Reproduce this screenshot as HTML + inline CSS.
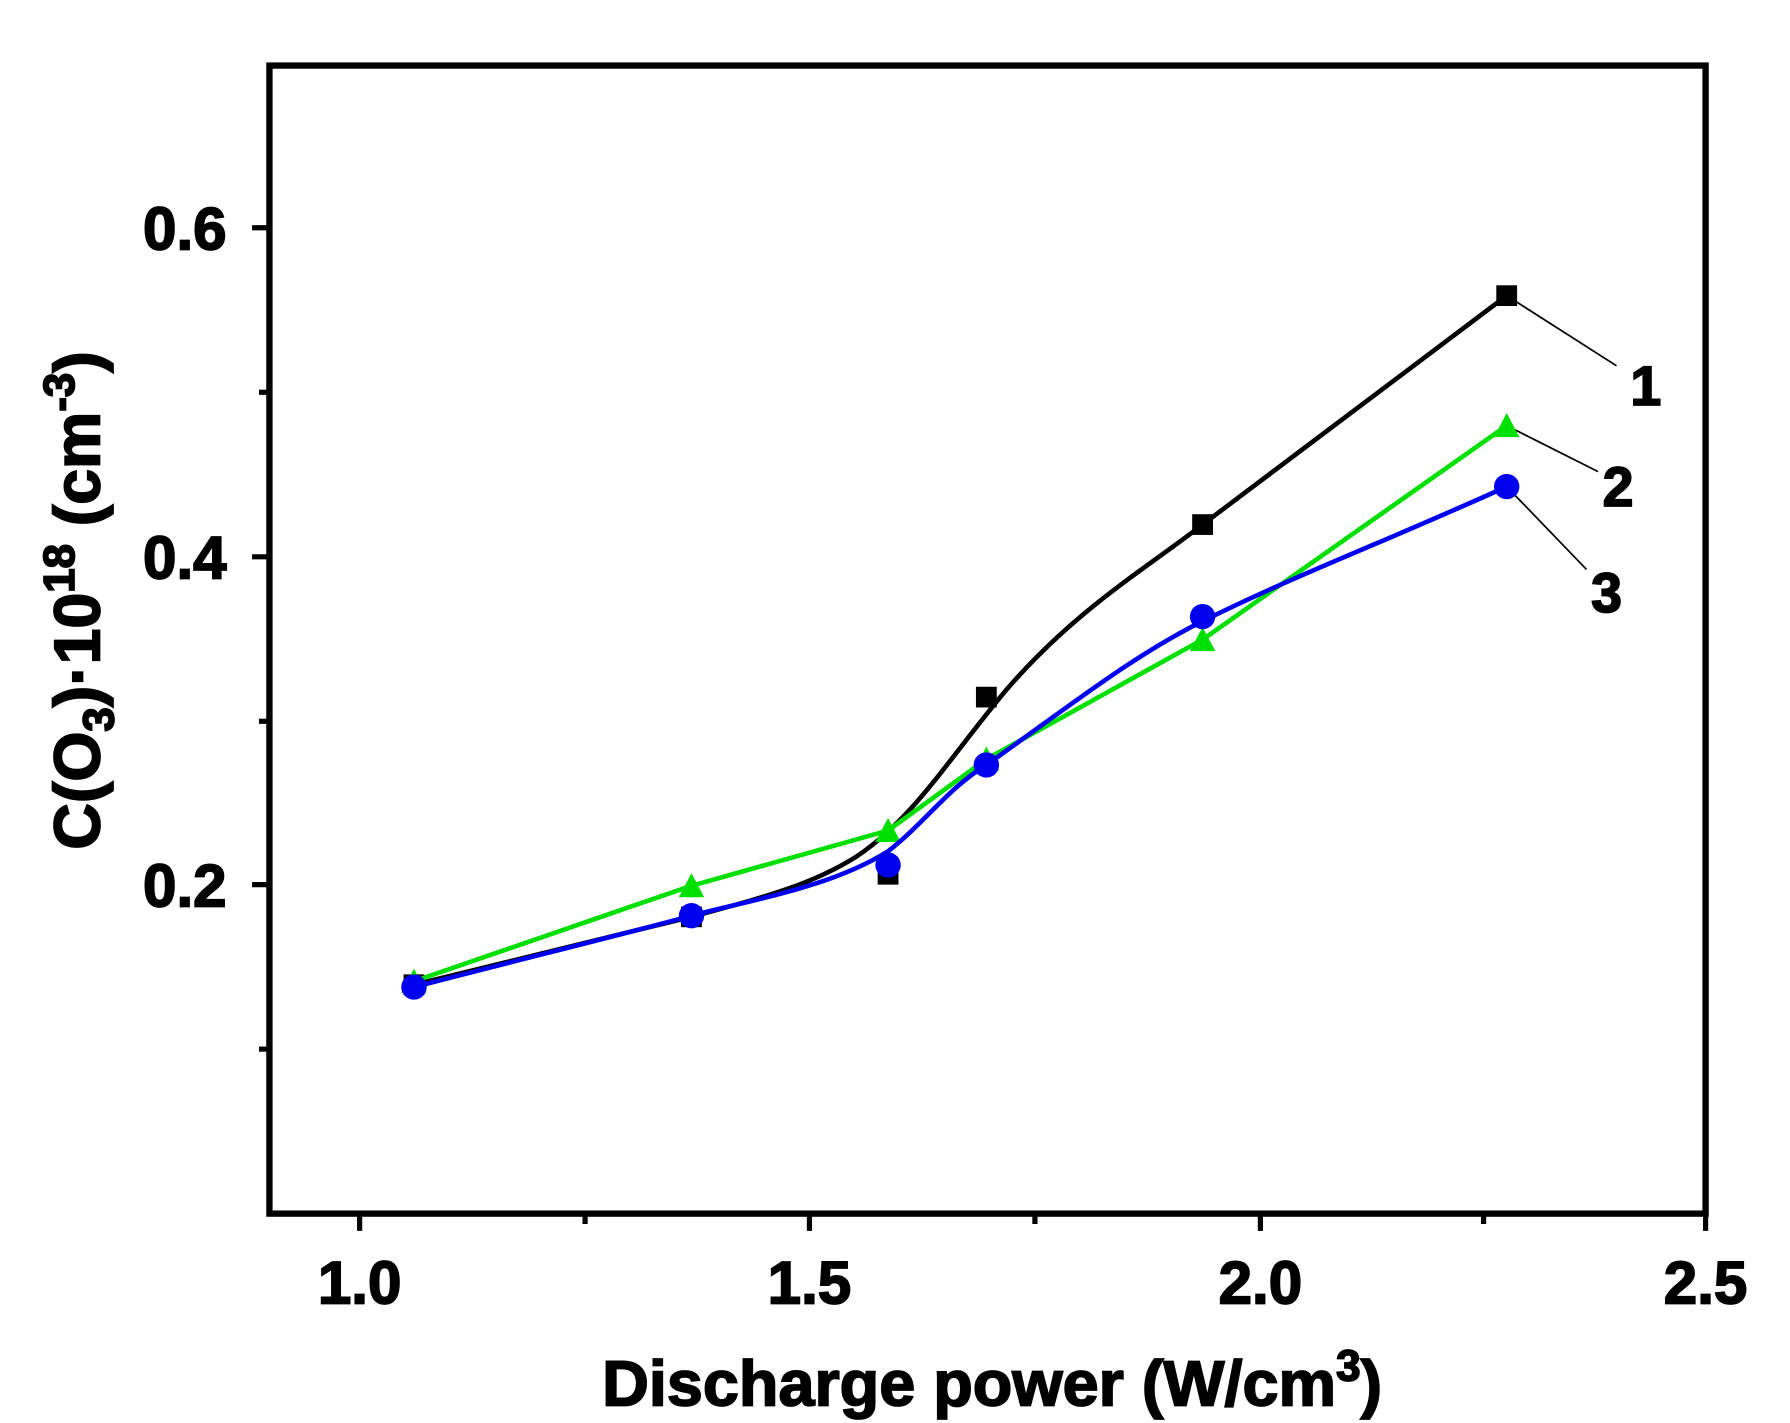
<!DOCTYPE html>
<html><head><meta charset="utf-8"><style>
html,body{margin:0;padding:0;background:#fff;}
svg{display:block;}
text{font-family:"Liberation Sans",Arial,sans-serif;font-weight:bold;fill:#000;stroke:#000;stroke-width:1.5;}
</style></head><body>
<svg width="1790" height="1423" viewBox="0 0 1548 1237" preserveAspectRatio="none" xmlns="http://www.w3.org/2000/svg">
<rect x="0" y="0" width="1548" height="1237" fill="#fff"/>
<g stroke="#000" stroke-width="4.5">
<line x1="218" y1="198" x2="233" y2="198"/>
<line x1="224" y1="341" x2="233" y2="341"/>
<line x1="218" y1="484" x2="233" y2="484"/>
<line x1="224" y1="627" x2="233" y2="627"/>
<line x1="218" y1="769" x2="233" y2="769"/>
<line x1="224" y1="912" x2="233" y2="912"/>
<line x1="311" y1="1055" x2="311" y2="1070"/>
<line x1="506" y1="1055" x2="506" y2="1064"/>
<line x1="700" y1="1055" x2="700" y2="1070"/>
<line x1="895" y1="1055" x2="895" y2="1064"/>
<line x1="1090" y1="1055" x2="1090" y2="1070"/>
<line x1="1283" y1="1055" x2="1283" y2="1064"/>
<line x1="1475" y1="1055" x2="1475" y2="1070"/>
</g>
<rect x="233" y="57" width="1242" height="998" fill="none" stroke="#000" stroke-width="5.5"/>
<g font-size="52" text-anchor="end">
<text x="196" y="217">0.6</text>
<text x="196" y="503">0.4</text>
<text x="196" y="788">0.2</text>
</g>
<g font-size="52" text-anchor="middle">
<text x="311" y="1133">1.0</text>
<text x="700" y="1133">1.5</text>
<text x="1090" y="1133">2.0</text>
<text x="1475" y="1133">2.5</text>
<text x="858" y="1222" font-size="56">Discharge power (W/cm<tspan font-size="38" dy="-22">3</tspan><tspan dy="22">)</tspan></text>
</g>
<text font-size="56" text-anchor="middle" transform="translate(86,522) rotate(-90)">C(O<tspan font-size="38" dy="12">3</tspan><tspan dy="-12">)·10</tspan><tspan font-size="38" dy="-22">18</tspan><tspan dy="22"> (cm</tspan><tspan font-size="38" dy="-22">-3</tspan><tspan dy="22">)</tspan></text>
<g stroke="#000" stroke-width="1.5">
<line x1="1303" y1="257" x2="1398" y2="318"/>
<line x1="1303" y1="370" x2="1382" y2="410"/>
<line x1="1303" y1="423" x2="1372" y2="495"/>
</g>
<g font-size="48">
<text x="1410" y="352">1</text>
<text x="1386" y="440">2</text>
<text x="1376" y="532">3</text>
</g>
<path d="M358,856 C450,833 540,812 598,797 C660,780 700,770 740,745 C790,712 820,660 870,600 C930,530 990,495 1040,456 L1303,257" fill="none" stroke="#000" stroke-width="4"/>
<g fill="#000">
<rect x="349" y="847" width="18" height="18"/><rect x="589" y="788" width="18" height="18"/>
<rect x="759" y="751" width="18" height="18"/><rect x="844" y="597" width="18" height="18"/>
<rect x="1031" y="447" width="18" height="18"/><rect x="1294" y="248" width="18" height="18"/>
</g>
<polyline points="358,853 598,770 768,722 853,660 1040,556 1303,370" fill="none" stroke="#00e000" stroke-width="4"/>
<g fill="#00e000">
<polygon points="358,842 347,863 369,863"/><polygon points="598,759 587,780 609,780"/>
<polygon points="768,711 757,732 779,732"/><polygon points="853,649 842,670 864,670"/>
<polygon points="1040,545 1029,566 1051,566"/><polygon points="1303,359 1292,380 1314,380"/>
</g>
<path d="M358,858 C450,834 540,812 598,796 C660,780 720,770 768,740 C800,715 820,685 853,665 C930,610 980,570 1040,540 C1120,500 1200,470 1303,423" fill="none" stroke="#0000ee" stroke-width="4"/>
<g fill="#0000ee">
<circle cx="358" cy="858" r="11"/><circle cx="598" cy="796" r="11"/><circle cx="768" cy="752" r="11"/>
<circle cx="853" cy="665" r="11"/><circle cx="1040" cy="536" r="11"/><circle cx="1303" cy="423" r="11"/>
</g>
</svg>
</body></html>
